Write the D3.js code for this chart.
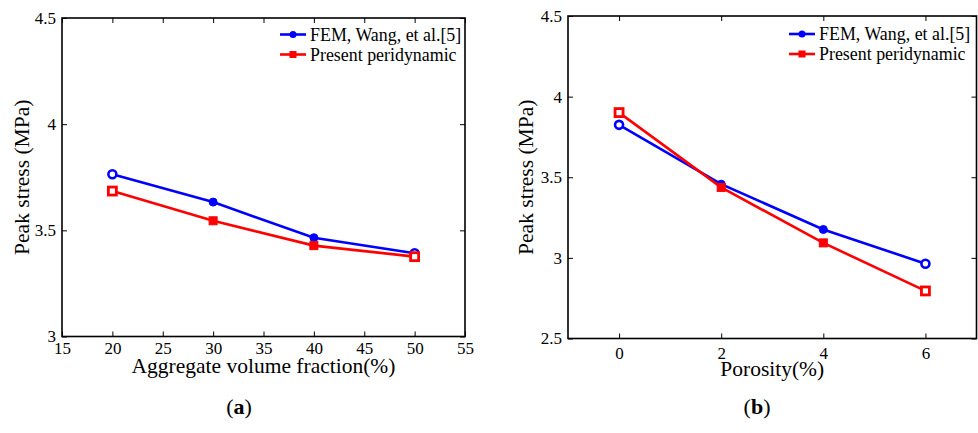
<!DOCTYPE html>
<html>
<head>
<meta charset="utf-8">
<script src="https://cdn.jsdelivr.net/npm/d3@7"></script>
<style>
  html, body { margin: 0; padding: 0; background: #fff; }
  svg { display: block; }
</style>
</head>
<body>
<svg id="chart" width="978" height="433"></svg>
<script>
// Panel (a): peak stress vs aggregate volume fraction
const fractionX = [20, 30, 40, 50];
const fractionFEM = [3.764, 3.633, 3.465, 3.392];
const fractionPD = [3.685, 3.545, 3.428, 3.376];
const fractionXTicks = [15, 20, 25, 30, 35, 40, 45, 50, 55];
const fractionYTicks = [3, 3.5, 4, 4.5];

// Panel (b): peak stress vs porosity
const porosityX = [0, 2, 4, 6];
const porosityFEM = [3.825, 3.457, 3.176, 2.964];
const porosityPD = [3.901, 3.437, 3.093, 2.795];
const porosityXTicks = [0, 2, 4, 6];
const porosityYTicks = [2.5, 3, 3.5, 4, 4.5];

const seriesNames = ["FEM, Wang, et al.[5]", "Present peridynamic"];
const seriesColors = ["#0000ff", "#ff0000"];

const SERIF = "'Liberation Serif', 'Times New Roman', serif";
const svg = d3.select("#chart");

function drawPanel(cfg) {
  const g = svg.append("g").attr("font-family", SERIF);
  const x = d3.scaleLinear().domain(cfg.xDomain).range([cfg.left, cfg.right]);
  const y = d3.scaleLinear().domain(cfg.yDomain).range([cfg.bottom, cfg.top]);
  const tickLen = 5;

  // Axes with inward ticks on all four sides
  const fmt = d3.format("~g");
  const bottomAxis = g.append("g").attr("transform", `translate(0,${cfg.bottom})`)
    .call(d3.axisBottom(x).tickValues(cfg.xTicks).tickSize(-tickLen).tickPadding(cfg.xTickPad).tickFormat(fmt));
  const topAxis = g.append("g").attr("transform", `translate(0,${cfg.top})`)
    .call(d3.axisTop(x).tickValues(cfg.xTicks).tickSize(-tickLen).tickFormat(""));
  const leftAxis = g.append("g").attr("transform", `translate(${cfg.left},0)`)
    .call(d3.axisLeft(y).tickValues(cfg.yTicks).tickSize(-tickLen).tickPadding(6).tickFormat(fmt));
  const rightAxis = g.append("g").attr("transform", `translate(${cfg.right},0)`)
    .call(d3.axisRight(y).tickValues(cfg.yTicks).tickSize(-tickLen).tickFormat(""));
  [bottomAxis, topAxis, leftAxis, rightAxis].forEach(a => {
    a.attr("font-family", SERIF).attr("font-size", 17);
    a.select(".domain").remove();
    a.selectAll(".tick line").attr("stroke", "#000").attr("stroke-width", 1);
    a.selectAll(".tick text").attr("fill", "#000");
  });

  // Frame
  g.append("rect")
    .attr("x", cfg.left).attr("y", cfg.top)
    .attr("width", cfg.right - cfg.left).attr("height", cfg.bottom - cfg.top)
    .attr("fill", "none").attr("stroke", "#000").attr("stroke-width", 1.6);

  // Series lines and markers
  const line = d3.line().x(d => x(d[0])).y(d => y(d[1]));
  cfg.series.forEach((vals, si) => {
    const pts = cfg.xs.map((xv, i) => [xv, vals[i]]);
    const color = seriesColors[si];
    g.append("path").datum(pts).attr("d", line)
      .attr("fill", "none").attr("stroke", color).attr("stroke-width", 2.6);
    pts.forEach((p, i) => {
      const cx = x(p[0]), cy = y(p[1]);
      const endpoint = (i === 0 || i === pts.length - 1);
      if (si === 0) {
        g.append("circle").attr("cx", cx).attr("cy", cy).attr("r", 4)
          .attr("fill", endpoint ? "#fff" : color).attr("stroke", color).attr("stroke-width", endpoint ? 2.6 : 1);
      } else {
        g.append("rect").attr("x", cx - 4).attr("y", cy - 4).attr("width", 8).attr("height", 8)
          .attr("fill", endpoint ? "#fff" : color).attr("stroke", color).attr("stroke-width", endpoint ? 2.8 : 1);
      }
    });
  });

  // Legend
  seriesNames.forEach((name, si) => {
    const ly = cfg.legendY + si * 20;
    const lx = cfg.legendX;
    const color = seriesColors[si];
    g.append("line").attr("x1", lx).attr("x2", lx + 26).attr("y1", ly).attr("y2", ly)
      .attr("stroke", color).attr("stroke-width", 2.6);
    if (si === 0) {
      g.append("circle").attr("cx", lx + 13).attr("cy", ly).attr("r", 3.5).attr("fill", color);
    } else {
      g.append("rect").attr("x", lx + 9.5).attr("y", ly - 3.5).attr("width", 7).attr("height", 7).attr("fill", color);
    }
    g.append("text").attr("x", lx + 30).attr("y", ly).attr("dy", "0.35em")
      .attr("font-family", SERIF).attr("font-size", 17.9).attr("fill", "#000").text(name);
  });

  // Axis titles
  g.append("text").attr("x", (cfg.left + cfg.right) / 2).attr("y", cfg.xLabelY)
    .attr("text-anchor", "middle").attr("font-family", SERIF).attr("font-size", 21.5)
    .attr("fill", "#000").text(cfg.xLabel);
  g.append("text")
    .attr("transform", `translate(${cfg.yLabelX},${(cfg.top + cfg.bottom) / 2}) rotate(-90)`)
    .attr("text-anchor", "middle").attr("font-family", SERIF).attr("font-size", 21.5)
    .attr("fill", "#000").text("Peak stress (MPa)");

  // Panel caption
  const cap = g.append("text").attr("x", cfg.captionX).attr("y", 414)
    .attr("text-anchor", "middle").attr("font-family", SERIF).attr("font-size", 22).attr("fill", "#000");
  cap.append("tspan").text("(");
  cap.append("tspan").attr("font-weight", "bold").text(cfg.caption);
  cap.append("tspan").text(")");
}

drawPanel({
  left: 62, right: 465, top: 18, bottom: 336.5,
  xDomain: [15, 55], yDomain: [3, 4.5],
  xTicks: fractionXTicks, yTicks: fractionYTicks, xTickPad: 5,
  xs: fractionX, series: [fractionFEM, fractionPD],
  xLabel: "Aggregate volume fraction(%)", xLabelY: 373,
  yLabelX: 29, legendX: 280, legendY: 34.5,
  captionX: 239, caption: "a"
});

drawPanel({
  left: 568, right: 976.5, top: 16, bottom: 338.5,
  xDomain: [-1, 7], yDomain: [2.5, 4.5],
  xTicks: porosityXTicks, yTicks: porosityYTicks, xTickPad: 8,
  xs: porosityX, series: [porosityFEM, porosityPD],
  xLabel: "Porosity(%)", xLabelY: 376,
  yLabelX: 533, legendX: 789, legendY: 34,
  captionX: 757, caption: "b"
});
</script>
</body>
</html>
